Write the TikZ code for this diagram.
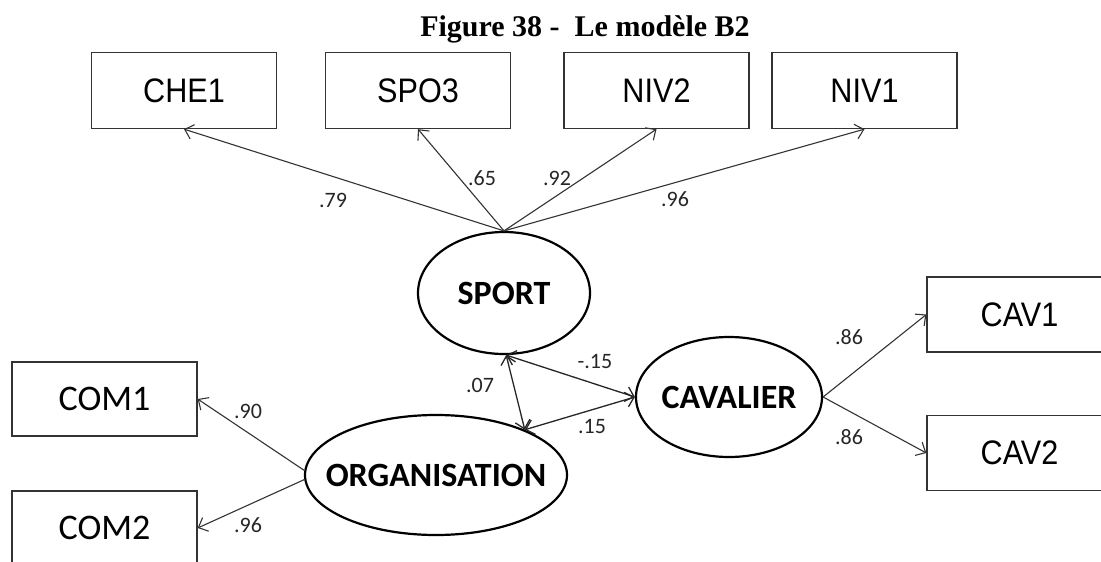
\documentclass[tikz,border=0pt]{standalone}
\usepackage{fontspec}
\setmainfont{Liberation Serif}
\newfontfamily\arialf[FakeStretch=0.9]{Liberation Sans}
\newfontfamily\calf{Carlito}
\usetikzlibrary{arrows.meta,shapes.geometric}
\tikzset{
  obsbox/.style={draw=black!80, line width=1.3pt, minimum width=185pt, minimum height=76pt, inner sep=0pt},
  arbox/.style={obsbox, font=\arialf\fontsize{34}{34}\selectfont},
  cabox/.style={obsbox, minimum height=74pt, font=\calf\fontsize{36}{36}\selectfont},
  latent/.style={draw=black, ellipse, line width=2.2pt, inner sep=0pt, font=\calf\bfseries\fontsize{34}{34}\selectfont},
  conn/.style={draw=black!80, line width=1.1pt, -{Straight Barb[length=8pt,width=15pt]}},
  dconn/.style={draw=black!85, line width=1.3pt, {Straight Barb[length=8pt,width=15pt]}-{Straight Barb[length=8pt,width=15pt]}},
  lab/.style={font=\calf\fontsize{22}{22}\selectfont, text=black!85, inner sep=0pt}
}
\begin{document}
\begin{tikzpicture}[x=1pt,y=-1pt]
\path[use as bounding box] (0,0) rectangle (1101,562);
\clip (0,0) rectangle (1101,562);
\fill[white] (0,0) rectangle (1101,562);
\node[font=\bfseries\fontsize{30}{30}\selectfont, anchor=base] (title) at (585,36) {Figure 38 -\ \ Le modèle B2};
% observed boxes
\node[arbox] (che1) at (184,90.5) {CHE1};
\node[arbox] (spo3) at (418,90.5) {SPO3};
\node[arbox] (niv2) at (656.5,90.5) {NIV2};
\node[arbox] (niv1) at (864.5,90.5) {NIV1};
\node[cabox] (com1) at (104.5,399) {COM1};
\node[cabox] (com2) at (104.5,528) {COM2};
\node[arbox, minimum height=75pt] (cav1) at (1019.5,314.5) {CAV1};
\node[arbox, minimum height=75pt] (cav2) at (1019.5,453) {CAV2};
% latent variables
\node[latent, minimum width=172pt, minimum height=122pt] (sport) at (504,293) {\makebox[0pt]{SPORT}};
\node[latent, minimum width=262pt, minimum height=120pt] (org) at (436,475) {\makebox[0pt]{ORGANISATION}};
\node[latent, minimum width=186pt, minimum height=120pt] (cav) at (729,397) {\makebox[0pt]{CAVALIER}};
% loadings
\draw[conn] (sport.north) -- (che1.south);
\draw[conn] (sport.north) -- (spo3.south);
\draw[conn] (sport.north) -- (niv2.south);
\draw[conn] (sport.north) -- (niv1.south);
\draw[conn] (org.178) -- (com1.east);
\draw[conn] (org.182) -- (com2.east);
\draw[conn] (cav.east) -- (cav1.west);
\draw[conn] (cav.east) -- (cav2.west);
% correlations
\draw[dconn] (sport.-88) -- (org.27);
\draw[dconn] (sport.-88) -- (cav.west);
\draw[dconn] (org.27) -- (cav.west);
% labels
\node[lab] (l79) at (333,200) {.79};
\node[lab] (l65) at (482,178) {.65};
\node[lab] (l92) at (557,178) {.92};
\node[lab] (l96a) at (675,199) {.96};
\node[lab] (l07) at (480,385) {.07};
\node[lab] (lm15) at (595,362) {-.15};
\node[lab] (l15) at (592,427) {.15};
\node[lab] (l90) at (248,411) {.90};
\node[lab] (l96b) at (248,525) {.96};
\node[lab] (l86a) at (849,337) {.86};
\node[lab] (l86b) at (849,437) {.86};
\end{tikzpicture}
\end{document}
